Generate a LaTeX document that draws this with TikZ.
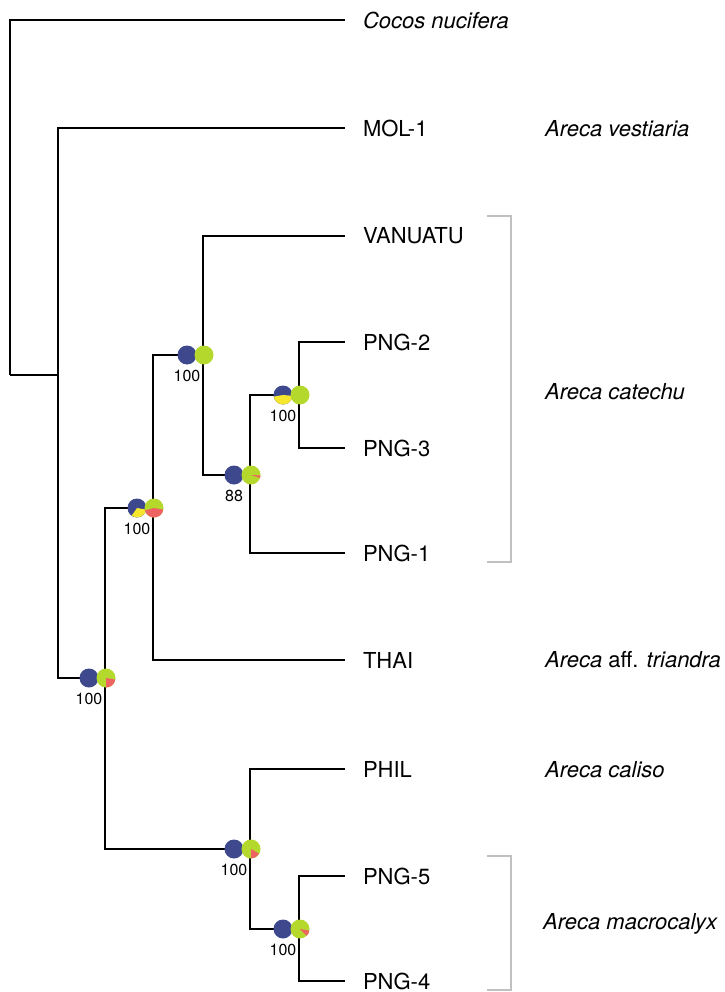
\documentclass[tikz,border=0pt]{standalone}
\usepackage{fontspec}
\setmainfont{TeX Gyre Heros}
\definecolor{ancblue}{RGB}{62,73,141}
\definecolor{ancgreen}{RGB}{180,216,44}
\definecolor{ancyellow}{RGB}{246,230,46}
\definecolor{ancred}{RGB}{238,100,98}
\definecolor{bracketgray}{RGB}{192,192,192}
\newcommand{\pieslice}[4]{\fill[#4] (#1) -- ++(#2:9.5pt) arc[start angle=#2,end angle=#3,radius=9.5pt] -- cycle;}
\newcommand{\nodepies}[4]{%
  \begin{scope}[shift={(#1)}]
    \fill[ancblue] (-16,0) circle[radius=9.5pt];
    #2
    \fill[ancgreen] (1,0) circle[radius=9.5pt];
    #3
    \node[boot] at (-16,21) {#4};
  \end{scope}}
\tikzset{
  branch/.style={line width=1.1pt},
  tip/.style={anchor=west, inner sep=0pt, outer xsep=18pt, font=\fontsize{22}{26}\selectfont},
  taxon/.style={anchor=west, inner sep=0pt, font=\fontsize{22}{26}\selectfont},
  boot/.style={inner sep=0pt, font=\fontsize{16}{18}\selectfont},
  bracket/.style={draw=bracketgray, line width=1.1pt}
}
\begin{document}
\begin{tikzpicture}[x=1pt,y=-1pt]
\useasboundingbox (0,0) rectangle (724,992);

\coordinate (root) at (10,375);
\coordinate (nA) at (58,375);
\coordinate (nB) at (105,678);
\coordinate (nC) at (153,508);
\coordinate (nD) at (203,355);
\coordinate (nE) at (250,475);
\coordinate (nF) at (299,395);
\coordinate (nG) at (250,849);
\coordinate (nH) at (299,929);

\node[tip] (cocos) at (345,20) {\itshape Cocos nucifera};
\node[tip] (mol) at (345,128) {MOL-1};
\node[tip] (vanuatu) at (345,236) {VANUATU};
\node[tip] (png2) at (345,342) {PNG-2};
\node[tip] (png3) at (345,448) {PNG-3};
\node[tip] (png1) at (345,553) {PNG-1};
\node[tip] (thai) at (345,660) {THAI};
\node[tip] (phil) at (345,769) {PHIL};
\node[tip] (png5) at (345,876) {PNG-5};
\node[tip] (png4) at (345,981) {PNG-4};

\draw[branch] (root) |- (cocos);
\draw[branch] (root) -- (nA);
\draw[branch] (nA) |- (mol);
\draw[branch] (nA) |- (nB);
\draw[branch] (nB) |- (nC);
\draw[branch] (nB) |- (nG);
\draw[branch] (nC) |- (nD);
\draw[branch] (nC) |- (thai);
\draw[branch] (nD) |- (vanuatu);
\draw[branch] (nD) |- (nE);
\draw[branch] (nE) |- (nF);
\draw[branch] (nE) |- (png1);
\draw[branch] (nF) |- (png2);
\draw[branch] (nF) |- (png3);
\draw[branch] (nG) |- (phil);
\draw[branch] (nG) |- (nH);
\draw[branch] (nH) |- (png5);
\draw[branch] (nH) |- (png4);

\nodepies{nB}{}{\pieslice{1,0}{-90}{-10}{ancred}}{100}
\nodepies{nC}{\pieslice{-16,0}{-125}{-10}{ancyellow}}{\pieslice{1,0}{-165}{-10}{ancred}}{100}
\nodepies{nD}{}{}{100}
\nodepies{nE}{}{\pieslice{1,0}{-18}{-3}{ancred}}{88}
\nodepies{nF}{\pieslice{-16,0}{-170}{-5}{ancyellow}}{}{100}
\nodepies{nG}{}{\pieslice{1,0}{-90}{-30}{ancred}}{100}
\nodepies{nH}{}{\pieslice{1,0}{-45}{-10}{ancred}}{100}

\node[taxon] (vest) at (545,129) {\itshape Areca vestiaria};
\node[taxon] (cat) at (545,392) {\itshape Areca catechu};
\node[taxon] (tri) at (545,660) {\textit{Areca} aff. \textit{triandra}};
\node[taxon] (cal) at (545,770) {\itshape Areca caliso};
\node[taxon] (mac) at (543,924) {\itshape Areca macrocalyx};

\draw[bracket] (487,216) -| (511,562) -- (487,562);
\draw[bracket] (487,856) -| (511,990) -- (487,990);
\end{tikzpicture}
\end{document}
